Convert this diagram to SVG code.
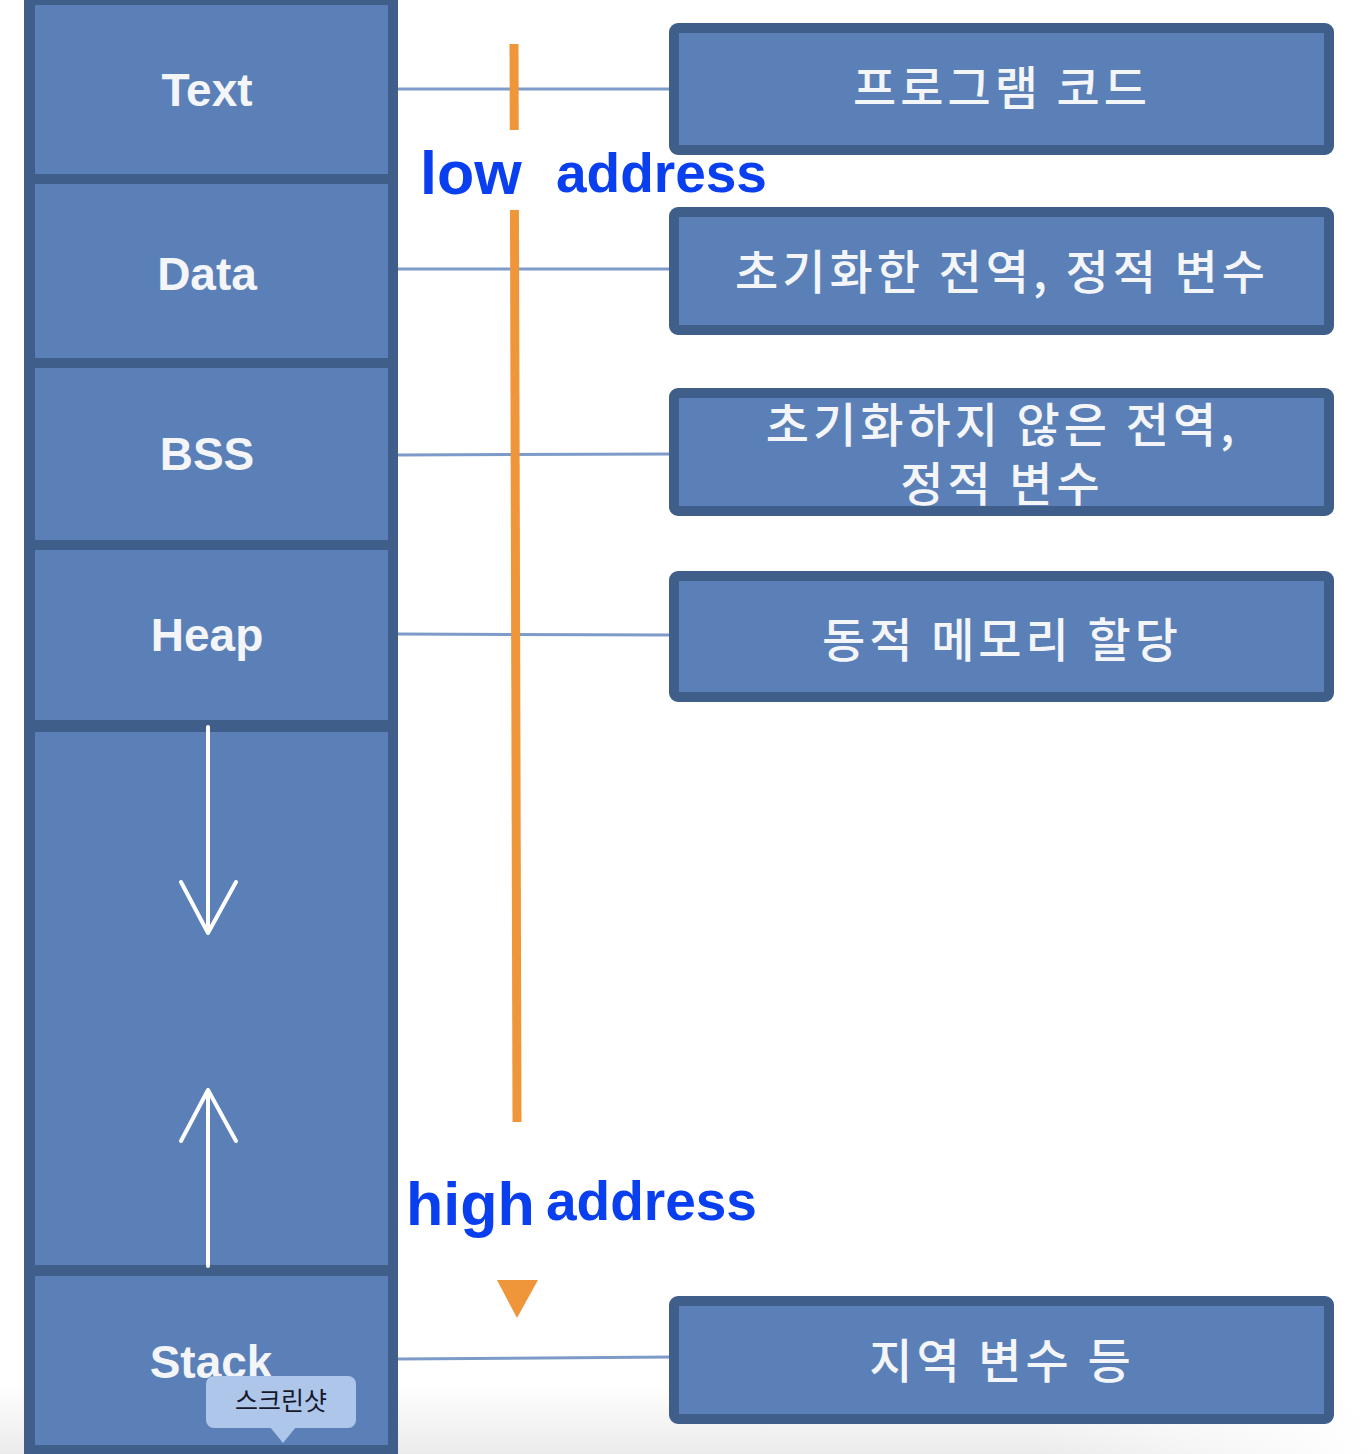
<svg xmlns="http://www.w3.org/2000/svg" width="1372" height="1454" viewBox="0 0 1372 1454">
  <defs>
    <linearGradient id="floorShade" x1="0" y1="0" x2="0" y2="1">
      <stop offset="0" stop-color="#ffffff"/>
      <stop offset="1" stop-color="#ebebeb"/>
    </linearGradient>
    <linearGradient id="floorFade" x1="0" y1="0" x2="1" y2="0">
      <stop offset="0.75" stop-color="#ffffff" stop-opacity="0"/>
      <stop offset="1" stop-color="#ffffff" stop-opacity="1"/>
    </linearGradient>
    <style>
      .seg { fill: #5a80b7; }
      .segText { font-family: "Liberation Sans", Arial, sans-serif; font-weight: bold; font-size: 46px; fill: #f3f5f9; text-anchor: middle; }
      .desc { fill: #5a80b7; stroke: #3f5e8a; stroke-width: 10; }
      .descText { font-family: "Noto Sans CJK KR", "Noto Sans", sans-serif; font-weight: 500; font-size: 47px; fill: #f3f5f9; text-anchor: middle; letter-spacing: 4px; }
      .link { stroke: #7d9bc9; stroke-width: 3; fill: none; }
      .addr { font-family: "Liberation Sans", Arial, sans-serif; font-weight: bold; fill: #0a3ff0; }
      .growth { stroke: #ffffff; stroke-width: 4; fill: none; stroke-linecap: round; stroke-linejoin: round; }
    </style>
  </defs>

  <rect x="0" y="0" width="1372" height="1454" fill="#ffffff"/>
  <!-- soft shading along the bottom edge -->
  <rect x="0" y="1385" width="1372" height="69" fill="url(#floorShade)"/>
  <rect x="0" y="1385" width="1372" height="69" fill="url(#floorFade)"/>

  <!-- memory layout column -->
  <g id="memory-column">
    <rect x="24" y="0" width="374" height="1454" fill="#3f5e8a"/>
    <g id="seg-text">
      <rect class="seg" x="35" y="5" width="353" height="169"/>
      <text class="segText" x="207" y="106">Text</text>
    </g>
    <g id="seg-data">
      <rect class="seg" x="35" y="184" width="353" height="174"/>
      <text class="segText" x="207" y="290">Data</text>
    </g>
    <g id="seg-bss">
      <rect class="seg" x="35" y="368" width="353" height="172"/>
      <text class="segText" x="207" y="470">BSS</text>
    </g>
    <g id="seg-heap">
      <rect class="seg" x="35" y="550" width="353" height="170"/>
      <text class="segText" x="207" y="651">Heap</text>
    </g>
    <g id="seg-free">
      <rect class="seg" x="35" y="732" width="353" height="533"/>
      <path class="growth" d="M208 727 V933 M181 882 L208 933 L236 882"/>
      <path class="growth" d="M208 1266 V1090 M181 1141 L208 1090 L236 1141"/>
    </g>
    <g id="seg-stack">
      <rect class="seg" x="35" y="1276" width="353" height="169"/>
      <text class="segText" x="211" y="1378">Stack</text>
    </g>
  </g>

  <!-- leader lines from each segment to its description -->
  <g id="connectors">
    <line class="link" x1="398" y1="89" x2="672" y2="89"/>
    <line class="link" x1="398" y1="269" x2="672" y2="269"/>
    <line class="link" x1="398" y1="455" x2="672" y2="454"/>
    <line class="link" x1="398" y1="634" x2="672" y2="635"/>
    <line class="link" x1="398" y1="1359" x2="672" y2="1357"/>
    <!-- address direction arrow -->
    <line x1="514" y1="44" x2="517" y2="1122" stroke="#f0963a" stroke-width="9"/>
    <polygon points="497,1280 538,1280 517,1318" fill="#f0963a"/>
  </g>

  <!-- descriptions -->
  <g id="desc-text">
    <rect class="desc" x="674" y="28" width="655" height="122" rx="4"/>
    <text class="descText" x="1002" y="105">프로그램 코드</text>
  </g>
  <g id="desc-data">
    <rect class="desc" x="674" y="212" width="655" height="118" rx="4"/>
    <text class="descText" x="1002" y="289">초기화한 전역, 정적 변수</text>
  </g>
  <g id="desc-bss">
    <rect class="desc" x="674" y="393" width="655" height="118" rx="4"/>
    <text class="descText" x="1002" y="442">초기화하지 않은 전역,</text>
    <text class="descText" x="1002" y="501">정적 변수</text>
  </g>
  <g id="desc-heap">
    <rect class="desc" x="674" y="576" width="655" height="121" rx="4"/>
    <text class="descText" x="1002" y="657">동적 메모리 할당</text>
  </g>
  <g id="desc-stack">
    <rect class="desc" x="674" y="1301" width="655" height="118" rx="4"/>
    <text class="descText" x="1002" y="1378">지역 변수 등</text>
  </g>

  <!-- address labels -->
  <g id="label-low">
    <rect x="398" y="130" width="122" height="80" fill="#ffffff"/>
    <text class="addr" x="420" y="194" font-size="61">low</text>
    <text class="addr" x="556" y="192" font-size="55">address</text>
  </g>
  <g id="label-high">
    <text class="addr" x="406" y="1225" font-size="61">high</text>
    <text class="addr" x="546" y="1220" font-size="55">address</text>
  </g>

  <!-- tooltip bubble -->
  <g id="tooltip">
    <rect x="206" y="1376" width="150" height="52" rx="8" fill="#adc6ea"/>
    <polygon points="270,1427 296,1427 283,1443" fill="#adc6ea"/>
    <text x="281" y="1410" font-family="Noto Sans CJK KR, Noto Sans, sans-serif" font-size="25" fill="#16182a" text-anchor="middle">스크린샷</text>
  </g>
</svg>
